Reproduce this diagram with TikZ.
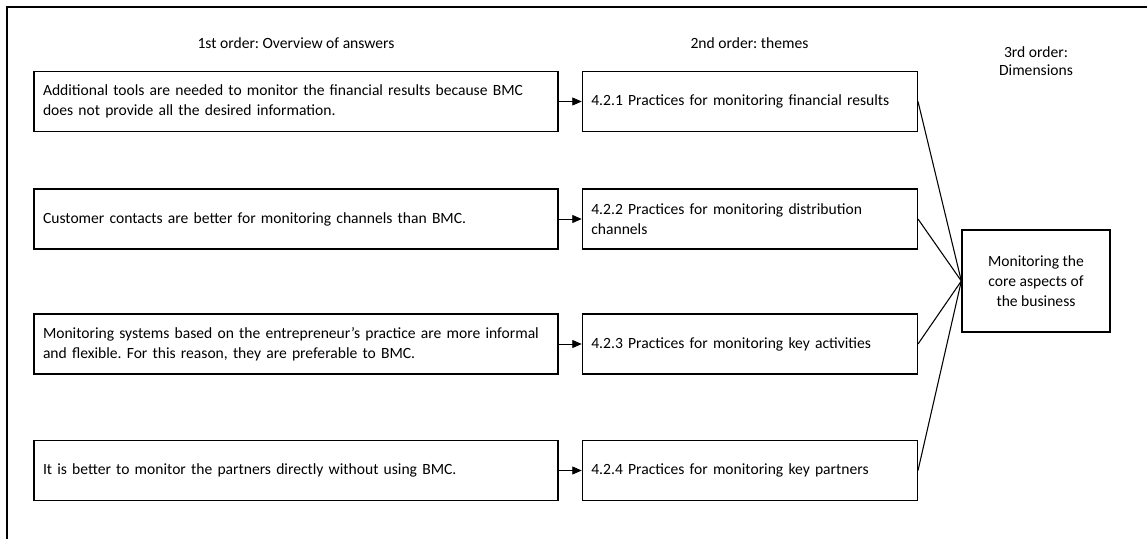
\documentclass[tikz,border=0pt]{standalone}
\usepackage{fontspec}
\setmainfont{Carlito}
\frenchspacing
\usetikzlibrary{positioning,arrows.meta}

\begin{document}
\begin{tikzpicture}[
        x=0.75pt, y=-0.75pt,
        node distance = 17.25pt,
        answer/.style = {draw=black, line width=1pt, align=left, text width=379.5pt,
            inner xsep=6.75pt, minimum height=45pt, font=\fontsize{11.7}{15}\selectfont},
        theme/.style = {answer, text width=237.75pt},
        dimension/.style = {draw=black, line width=1pt, align=center, minimum width=111pt,
            minimum height=76.5pt, font=\fontsize{11.7}{15}\selectfont},
        head/.style = {align=center, font=\fontsize{11.7}{13.5}\selectfont},
        arr/.style = {-{Triangle[length=7pt,width=6pt]}, line width=0.6pt},
        link/.style = {line width=0.8pt}]
        \useasboundingbox (0,0) rectangle (1147,539);
        % frame
        \draw[line width=0.8pt] (7,539) -- (7,7) -- (1147,7);
        % HEADERS
        \node[head] (H1) at (296,43) {1st order: Overview of answers};
        \node[head] (H2) at (749.5,43) {2nd order: themes};
        \node[head] (H3) at (1036,61) {3rd order:\\Dimensions};
        % 1st order answers
        \node[answer] (A1) at (296,101.5) {Additional tools are needed to monitor the financial results because BMC\\does not provide all the desired information.};
        \node[answer] (A2) at (296,219) {Customer contacts are better for monitoring channels than BMC.};
        \node[answer] (A3) at (296,344) {Monitoring systems based on the entrepreneur's practice are more informal\\and flexible. For this reason, they are preferable to BMC.};
        \node[answer] (A4) at (296,470.5) {It is better to monitor the partners directly without using BMC.};
        % 2nd order themes
        \node[theme, right=of A1] (B1) {4.2.1 Practices for monitoring financial results};
        \node[theme, right=of A2] (B2) {4.2.2 Practices for monitoring distribution\\channels};
        \node[theme, right=of A3] (B3) {4.2.3 Practices for monitoring key activities};
        \node[theme, right=of A4] (B4) {4.2.4 Practices for monitoring key partners};
        % 3rd order dimension
        \node[dimension] (C) at (1036,281) {Monitoring the\\core aspects of\\the business};
        % ARROWS
        \foreach \i in {1,...,4} {
            \draw[arr] (A\i.east) -- (B\i.west);
            \draw[link] (B\i.east) -- (C.west);
        }
    \end{tikzpicture}
\end{document}
